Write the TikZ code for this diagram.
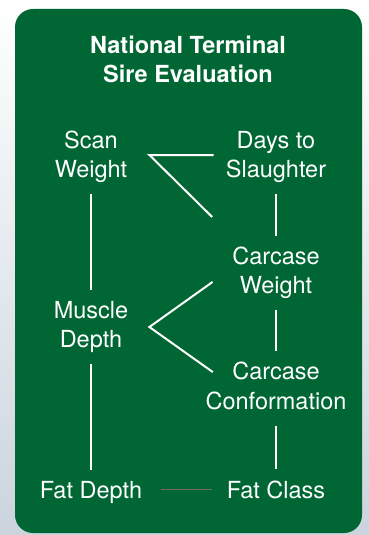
\documentclass[tikz,border=0pt]{standalone}
\usepackage{fontspec}
\setmainfont{TeX Gyre Heros}
\definecolor{sireGreen}{RGB}{0,103,52}
\definecolor{pageGrey}{RGB}{203,212,221}
\definecolor{ruleGrey}{RGB}{120,100,100}

\begin{document}
\begin{tikzpicture}[
    x=1pt, y=-1pt,
    panel/.style={fill=sireGreen, rounded corners=18pt},
    heading/.style={
      text=white,
      align=center,
      inner sep=0pt,
      font=\fontsize{23.5}{29}\selectfont\bfseries
    },
    trait/.style={
      text=white,
      align=center,
      inner sep=0pt,
      font=\fontsize{23.5}{29.5}\selectfont
    },
    link/.style={white, line width=2pt, shorten <=11pt, shorten >=11pt},
    faint/.style={ruleGrey, line width=1.6pt, shorten <=19pt, shorten >=15pt}
  ]
    \useasboundingbox (0,0) rectangle (369,535);
    \shade[top color=white, bottom color=pageGrey] (0,0) rectangle (369,535);
    \fill[panel] (15,9) rectangle (362,533);

    \node[heading] (head) at (188,59) {National Terminal\\Sire Evaluation};

    \node[trait] (scan) at (91,157) {Scan\\Weight};
    \node[trait] (days) at (276,157) {Days to\\Slaughter};
    \node[trait] (carw) at (276,273) {Carcase\\Weight};
    \node[trait] (mus) at (91,327) {Muscle\\Depth};
    \node[trait] (conf) at (276,386) {Carcase\\Conformation};
    \node[trait] (fatd) at (91,492) {Fat Depth};
    \node[trait, anchor=base] (fatc) at (fatd.base -| days) {Fat Class};

    \coordinate (swtip) at ([xshift=22pt, yshift=2pt]scan.east);
    \coordinate (mdtip) at ([xshift=21pt]mus.east);

    \draw[link] (scan) -- (mus);
    \draw[link] (days) -- (carw);
    \draw[link] (carw) -- (conf);
    \draw[link] (mus) -- (fatd);
    \draw[link, shorten <=16pt] (conf) -- (fatc);
    \draw[link, shorten <=12pt, shorten >=28pt] (days.west |- swtip) -- (swtip) -- ([yshift=10pt]carw.north west);
    \draw[link, shorten <=24pt, shorten >=24pt] ([yshift=5pt]carw.west) -- (mdtip) -- ([xshift=27pt]conf.west);
    \draw[faint] (fatd.east |- fatc.west) -- (fatc.west);
  \end{tikzpicture}
\end{document}
